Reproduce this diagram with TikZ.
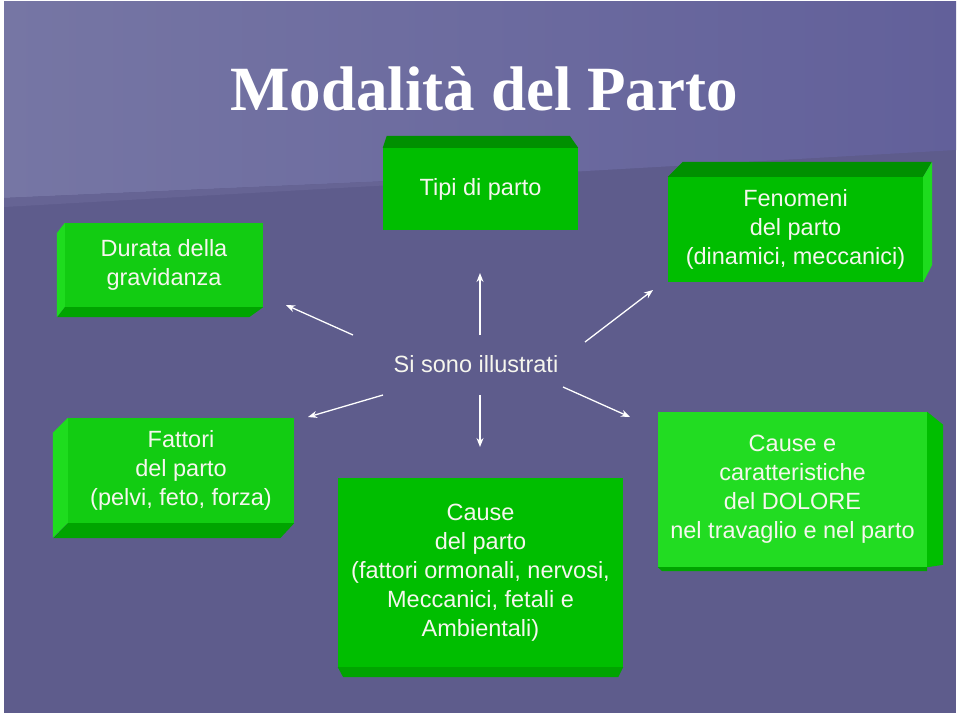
\documentclass[tikz,border=0pt]{standalone}
\usepackage{fontspec}
\setmainfont{Liberation Sans}
\newfontfamily\titlefont{Liberation Serif}
\usetikzlibrary{arrows.meta, positioning}
\definecolor{slate}{HTML}{5E5C8C}
\definecolor{slatelt}{HTML}{7676A4}
\definecolor{slatedk}{HTML}{62609A}
\definecolor{slateband}{HTML}{666494}
\definecolor{leaf}{HTML}{00BE00}
\definecolor{leafmid}{HTML}{12CC12}
\definecolor{leafhi}{HTML}{22DC22}
\definecolor{leafside}{HTML}{1EDC1E}
\definecolor{leafdk}{HTML}{009000}
\definecolor{leafbot}{HTML}{00A400}
\definecolor{ivory}{HTML}{F6F6EE}

\begin{document}
\begin{tikzpicture}[
  x=1pt, y=-1pt,
  >=Stealth,
  face/.style={rectangle, fill=leaf, inner sep=0pt, align=center,
               text=ivory, font=\fontsize{23.5}{29}\selectfont},
  topface/.style={fill=leafdk},
  sideface/.style={fill=leafside},
  lowface/.style={fill=leafbot},
  spoke/.style={-{Stealth[length=9pt, width=7pt]}, line width=1.3pt, draw=white},
]
  \useasboundingbox (0,0) rectangle (960,716);

  %% Background
  \fill[white] (0,0) rectangle (960,716);
  \fill[slate] (4,1) rectangle (956,713);
  \shade[left color=slatelt, right color=slatedk]
    (4,1) -- (956,1) -- (956,150) -- (480,177) -- (4,198) -- cycle;
  \fill[slateband] (4,198) -- (480,177) -- (480,180) -- (4,207) -- cycle;

  %% Title and hub
  \node[font=\titlefont\bfseries\fontsize{63}{70}\selectfont, text=white, anchor=base]
    (title) at (484,110) {Modalità del Parto};
  \node[font=\fontsize{23.5}{29}\selectfont, text=ivory] (hub) at (476,364) {Si sono illustrati};

  %% Upper row
  \node[face, fill=leafmid, minimum width=198pt, minimum height=84pt] (dur) at (164,265)
        {Durata della\\gravidanza};
  \fill[sideface] (dur.north west) -- (dur.south west) -- ++(-8,10) -- ++(0,-84) -- cycle;
  \fill[lowface] (dur.south west) -- (dur.south east) -- ++(-14,10) -- ++(-192,0) -- cycle;

  \node[face, minimum width=195pt, minimum height=82pt] (tipi) at (480.5,189)
        {Tipi di parto};
  \fill[topface] (tipi.north west) -- ++(4,-12) -- ++(183,0) -- (tipi.north east) -- cycle;

  \node[face, minimum width=255pt, minimum height=105pt] (fen) at (795.5,229.5)
        {Fenomeni\\del parto\\(dinamici, meccanici)};
  \fill[topface] (fen.north west) -- ++(15,-15) -- ++(249,0) -- (fen.north east) -- cycle;
  \fill[sideface] (fen.north east) -- ++(9,-15) -- ++(0,103) -- (fen.south east) -- cycle;

  %% Lower row
  \node[face, fill=leafmid, minimum width=226pt, minimum height=105pt] (fat) at (181,470.5)
        {Fattori\\del parto\\(pelvi, feto, forza)};
  \fill[sideface] (fat.north west) -- ++(-15,15) -- ++(0,105) -- (fat.south west) -- cycle;
  \fill[lowface] (fat.south west) -- (fat.south east) -- ++(-14,15) -- ++(-227,0) -- cycle;

  \node[face, minimum width=285pt, minimum height=189pt] (cdp) at (480.5,572.5)
        {Cause\\del parto\\(fattori ormonali, nervosi,\\Meccanici, fetali e\\Ambientali)};
  \fill[lowface] (cdp.south west) -- (cdp.south east) -- ++(-5,10) -- ++(-275,0) -- cycle;

  \node[face, fill=leafhi, minimum width=269pt, minimum height=155pt] (cec) at (792.5,489.5)
        {Cause e\\caratteristiche\\del DOLORE\\nel travaglio e nel parto};
  \fill[fill=leaf] (cec.north east) -- ++(16,13) -- ++(0,140) -- (cec.south east) -- cycle;
  \fill[lowface] (cec.south west) -- (cec.south east) -- ++(0,4) -- ++(-265,0) -- cycle;

  %% Spokes out of the hub
  \coordinate (t1) at (353,335); \coordinate (h1) at (286,305);
  \coordinate (t2) at (480,335); \coordinate (h2) at (480,273);
  \coordinate (t3) at (585,342); \coordinate (h3) at (653,290);
  \coordinate (t4) at (383,395); \coordinate (h4) at (308,417);
  \coordinate (t5) at (480,395); \coordinate (h5) at (480,447);
  \coordinate (t6) at (563,387); \coordinate (h6) at (630,417);

  \foreach \i in {1,...,6}
    \draw[spoke] (t\i) -- (h\i);

\end{tikzpicture}
\end{document}
